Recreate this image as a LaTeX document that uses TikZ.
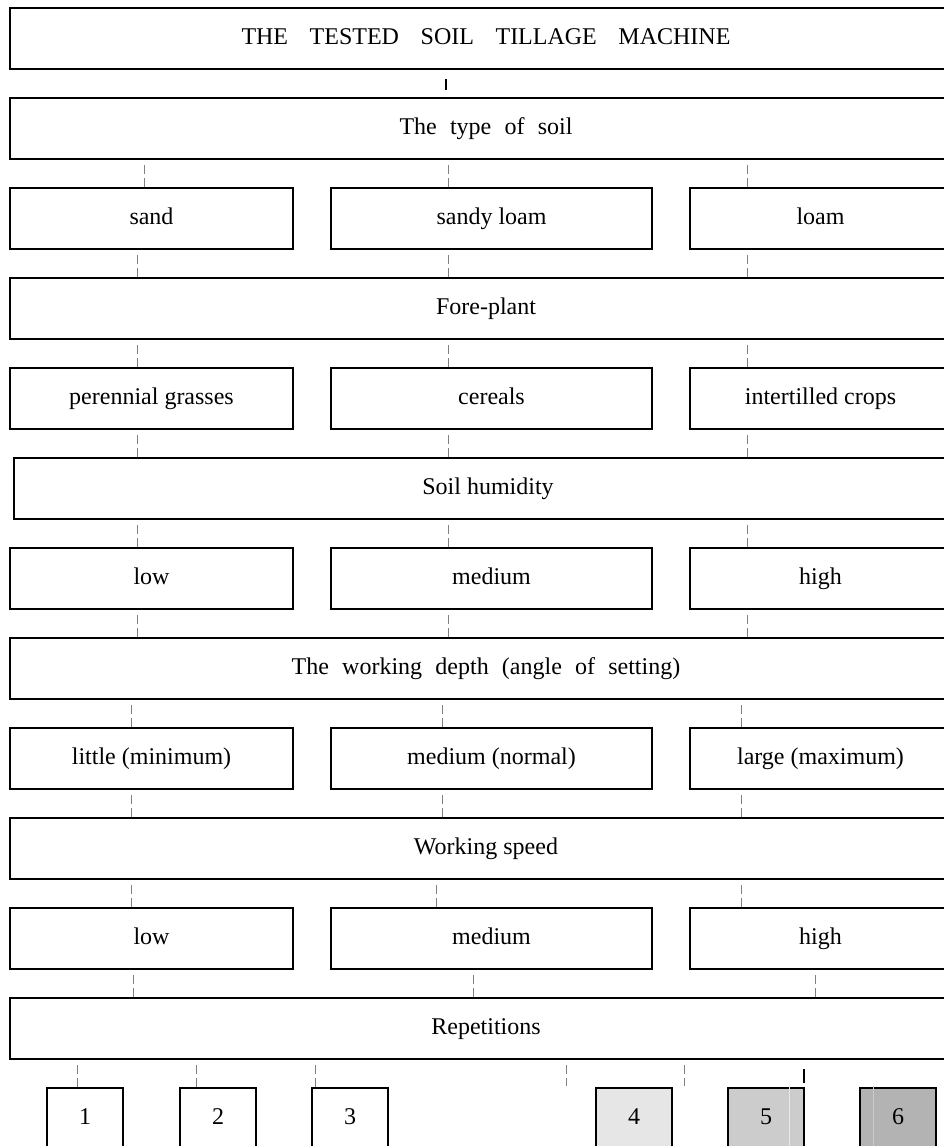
\documentclass[tikz,border=0pt]{standalone}
\usepackage{fontspec}
\setmainfont{Liberation Serif}
\usepackage{tikz}
\definecolor{linkgray}{RGB}{128,128,128}
\definecolor{repfourfill}{RGB}{230,230,230}
\definecolor{repfivefill}{RGB}{204,204,204}
\definecolor{repsixfill}{RGB}{179,179,179}
\newcommand{\wsp}{\hspace{0.9em}}
\newcommand{\dsp}{\hspace{0.55em}}

\begin{document}
\begin{tikzpicture}[x=0.75pt,y=0.75pt,yscale=-1,xscale=1,
  every node/.style={font=\fontsize{18}{21}\selectfont, text height=12pt, text depth=3.75pt},
  box/.style={draw, line width=1.5pt, anchor=north west, minimum height=45.75pt, inner sep=0pt},
  wide/.style={box, minimum width=714pt},
  lbox/.style={box, minimum width=212.25pt},
  mbox/.style={box, minimum width=240.75pt},
  rbox/.style={box, minimum width=195.75pt},
  nbox/.style={box, minimum width=57pt},
  link/.style={draw=linkgray, line width=0.75pt, dash pattern=on 6.75pt off 3pt},
  joint/.style={draw=black, line width=1pt}]
\useasboundingbox (0,0) rectangle (944,1146);
\clip (0,0) rectangle (944,1146);

%Columns of the connectors
\coordinate (x77) at (77,0);   \coordinate (x196) at (196,0); \coordinate (x315) at (315,0);
\coordinate (x131) at (131,0); \coordinate (x133) at (133,0); \coordinate (x137) at (137,0);
\coordinate (x144) at (144,0); \coordinate (x436) at (436,0); \coordinate (x442) at (442,0);
\coordinate (x446) at (446,0); \coordinate (x448) at (448,0); \coordinate (x473) at (473,0);
\coordinate (x566) at (566,0); \coordinate (x684) at (684,0); \coordinate (x741) at (741,0);
\coordinate (x747) at (747,0); \coordinate (x804) at (804,0); \coordinate (x815) at (815,0);

%Shape: Rectangle - machine
\node [wide] (title) at (9,7) {THE\wsp TESTED\wsp SOIL\wsp TILLAGE\wsp MACHINE};
%Shape: Rectangle - type of soil
\node [wide] (type) at (9,97) {The\dsp type\dsp of\dsp soil};
%Shape: Rectangle - soils
\node [lbox] (sand) at (9,187) {sand};
\node [mbox] (sandyloam) at (330,187) {sandy loam};
\node [rbox] (loam) at (689,187) {loam};
%Shape: Rectangle - fore-plant
\node [wide] (fore) at (9,277) {Fore-plant};
%Shape: Rectangle - plants
\node [lbox] (grasses) at (9,367) {perennial grasses};
\node [mbox] (cereals) at (330,367) {cereals};
\node [rbox] (crops) at (689,367) {intertilled crops};
%Shape: Rectangle - humidity
\node [box, minimum width=711pt] (humid) at (13,457) {Soil humidity};
%Shape: Rectangle - humidity levels
\node [lbox] (humlow) at (9,547) {low};
\node [mbox] (hummed) at (330,547) {medium};
\node [rbox] (humhigh) at (689,547) {high};
%Shape: Rectangle - depth
\node [wide] (depth) at (9,637) {The\dsp working\dsp depth\dsp (angle\dsp of\dsp setting)};
%Shape: Rectangle - depth levels
\node [lbox] (little) at (9,727) {little (minimum)};
\node [mbox] (normal) at (330,727) {medium (normal)};
\node [rbox] (large) at (689,727) {large (maximum)};
%Shape: Rectangle - speed
\node [wide] (speed) at (9,817) {Working speed};
%Shape: Rectangle - speed levels
\node [lbox] (spdlow) at (9,907) {low};
\node [mbox] (spdmed) at (330,907) {medium};
\node [rbox] (spdhigh) at (689,907) {high};
%Shape: Rectangle - repetitions
\node [wide] (rep) at (9,997) {Repetitions};
%Shape: Rectangle - repetition boxes
\node [nbox] (rep1) at (46,1087) {1};
\node [nbox] (rep2) at (179,1087) {2};
\node [nbox] (rep3) at (311,1087) {3};
\node [nbox, fill=repfourfill] (rep4) at (595,1087) {4};
\node [nbox, fill=repfivefill] (rep5) at (727,1087) {5};
\node [nbox, fill=repsixfill] (rep6) at (859,1087) {6};
\draw [color=white!55!repfivefill, line width=0.75pt] ([xshift=46.5pt,yshift=-1pt]rep5.north west) -- ([xshift=46.5pt]rep5.south west);
\draw [color=white!30!repsixfill, line width=0.75pt] ([xshift=10.5pt,yshift=-1pt]rep6.north west) -- ([xshift=10.5pt]rep6.south west);

%Straight Lines
\draw [joint] (title.south -| x446) ++(0,9) -- ++(0,11);
\draw [link] (type.south -| x144) ++(0,5) -- (sand.north -| x144);
\draw [link] (type.south -| x448) ++(0,5) -- (sandyloam.north -| x448);
\draw [link] (type.south -| x747) ++(0,5) -- (loam.north -| x747);
%Straight Lines
\draw [link] (sand.south -| x137) ++(0,5) -- (fore.north -| x137);
\draw [link] (sandyloam.south -| x448) ++(0,5) -- (fore.north -| x448);
\draw [link] (loam.south -| x747) ++(0,5) -- (fore.north -| x747);
%Straight Lines
\draw [link] (fore.south -| x137) ++(0,5) -- (grasses.north -| x137);
\draw [link] (fore.south -| x448) ++(0,5) -- (cereals.north -| x448);
\draw [link] (fore.south -| x747) ++(0,5) -- (crops.north -| x747);
%Straight Lines
\draw [link] (grasses.south -| x137) ++(0,5) -- (humid.north -| x137);
\draw [link] (cereals.south -| x448) ++(0,5) -- (humid.north -| x448);
\draw [link] (crops.south -| x747) ++(0,5) -- (humid.north -| x747);
%Straight Lines
\draw [link] (humid.south -| x137) ++(0,5) -- (humlow.north -| x137);
\draw [link] (humid.south -| x448) ++(0,5) -- (hummed.north -| x448);
\draw [link] (humid.south -| x747) ++(0,5) -- (humhigh.north -| x747);
%Straight Lines
\draw [link] (humlow.south -| x137) ++(0,5) -- (depth.north -| x137);
\draw [link] (hummed.south -| x448) ++(0,5) -- (depth.north -| x448);
\draw [link] (humhigh.south -| x747) ++(0,5) -- (depth.north -| x747);
%Straight Lines
\draw [link] (depth.south -| x131) ++(0,5) -- (little.north -| x131);
\draw [link] (depth.south -| x442) ++(0,5) -- (normal.north -| x442);
\draw [link] (depth.south -| x741) ++(0,5) -- (large.north -| x741);
%Straight Lines
\draw [link] (little.south -| x131) ++(0,5) -- (speed.north -| x131);
\draw [link] (normal.south -| x442) ++(0,5) -- (speed.north -| x442);
\draw [link] (large.south -| x741) ++(0,5) -- (speed.north -| x741);
%Straight Lines
\draw [link] (speed.south -| x131) ++(0,5) -- (spdlow.north -| x131);
\draw [link] (speed.south -| x436) ++(0,5) -- (spdmed.north -| x436);
\draw [link] (speed.south -| x741) ++(0,5) -- (spdhigh.north -| x741);
%Straight Lines
\draw [link] (spdlow.south -| x133) ++(0,5) -- (rep.north -| x133);
\draw [link] (spdmed.south -| x473) ++(0,5) -- (rep.north -| x473);
\draw [link] (spdhigh.south -| x815) ++(0,5) -- (rep.north -| x815);
%Straight Lines
\draw [link] (rep.south -| x77) ++(0,5) -- (rep1.north -| x77);
\draw [link] (rep.south -| x196) ++(0,5) -- (rep2.north -| x196);
\draw [link] (rep.south -| x315) ++(0,5) -- (rep3.north -| x315);
\draw [link] (rep.south -| x566) ++(0,5) -- ++(0,21);
\draw [link] (rep.south -| x684) ++(0,5) -- ++(0,21);
\draw [joint] (rep.south -| x804) ++(0,9) -- ++(0,14);
\end{tikzpicture}
\end{document}
